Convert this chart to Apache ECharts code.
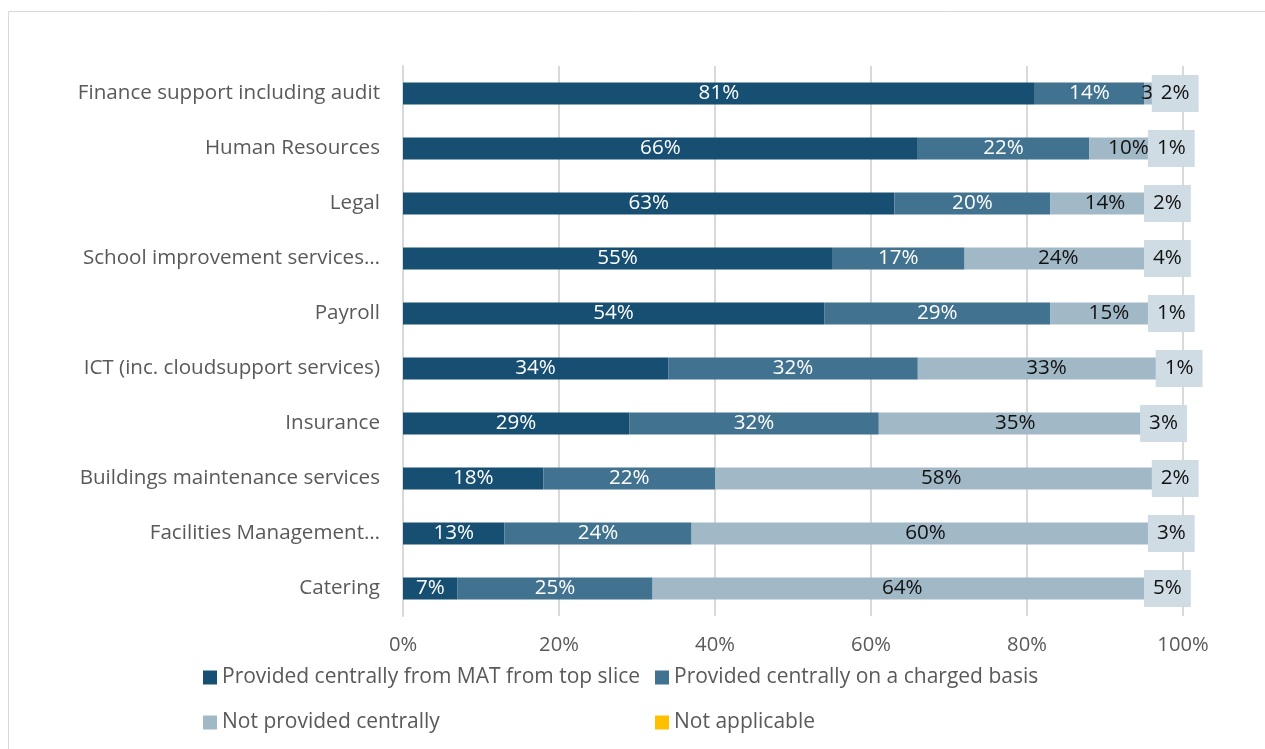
<!DOCTYPE html>
<html>
<head>
<meta charset="utf-8">
<script src="https://cdn.jsdelivr.net/npm/echarts@6/dist/echarts.min.js"></script>
<style>
  html, body { margin: 0; padding: 0; background: #fff; }
  #chart { width: 1265px; height: 749px; }
</style>
</head>
<body>
<div id="chart"></div>
<script>
// Services, listed top to bottom
const categories = [
  'Finance support including audit',
  'Human Resources',
  'Legal',
  'School improvement services…',
  'Payroll',
  'ICT (inc. cloudsupport services)',
  'Insurance',
  'Buildings maintenance services',
  'Facilities Management…',
  'Catering'
];

// Share of MATs (%) per provision type, same order as categories
const topSlice    = [81, 66, 63, 55, 54, 34, 29, 18, 13, 7];
const charged     = [14, 22, 20, 17, 29, 32, 32, 22, 24, 25];
const notCentral  = [3, 10, 14, 24, 15, 33, 35, 58, 60, 64];
const notApplic   = [2, 1, 2, 4, 1, 1, 3, 2, 3, 5];

const seriesNames = [
  'Provided centrally from MAT from top slice',
  'Provided centrally on a charged basis',
  'Not provided centrally',
  'Not applicable'
];

const xTicks = [0, 20, 40, 60, 80, 100];

const FONT = '"Open Sans", sans-serif';
const FS = 20.6;
const colors = ['#164f71', '#41728f', '#a1b8c7', '#ffc000'];

// category axis lists bottom-up, so reverse for top-to-bottom order
const rev = a => a.slice().reverse();

const chart = echarts.init(document.getElementById('chart'));

function barSeries(i, data, labelColor, extraLabel) {
  return {
    name: seriesNames[i],
    type: 'bar',
    stack: 'total',
    data: rev(data),
    barWidth: 22,
    itemStyle: { color: colors[i] },
    label: Object.assign({
      show: true,
      position: 'inside',
      formatter: p => p.value + '%',
      color: labelColor,
      fontFamily: FONT,
      fontSize: FS
    }, extraLabel || {})
  };
}

function legendAt(i, left, top) {
  return {
    data: [seriesNames[i]],
    left: left,
    top: top,
    itemWidth: 14,
    itemHeight: 14,
    itemGap: 6,
    icon: 'rect',
    textStyle: { color: '#595959', fontFamily: FONT, fontSize: 21 }
  };
}

chart.setOption({
  animation: false,
  color: colors,
  graphic: [{
    type: 'rect',
    shape: { x: 8.5, y: 11.5, width: 1300, height: 800 },
    style: { fill: 'none', stroke: '#d9d9d9', lineWidth: 1 },
    silent: true
  }],
  grid: { left: 403, right: 82, top: 66, bottom: 133, containLabel: false },
  legend: [
    legendAt(0, 198, 662),
    legendAt(1, 650, 662),
    legendAt(2, 198, 707),
    legendAt(3, 650, 707)
  ],
  xAxis: {
    type: 'value',
    min: xTicks[0],
    max: xTicks[xTicks.length - 1],
    interval: xTicks[1] - xTicks[0],
    axisLabel: {
      formatter: v => v + '%',
      color: '#595959',
      fontFamily: FONT,
      fontSize: 20.2,
      margin: 19
    },
    axisLine: { show: false },
    axisTick: { show: false },
    splitLine: { lineStyle: { color: '#d9d9d9', width: 2 } }
  },
  yAxis: {
    type: 'category',
    data: rev(categories),
    axisLabel: {
      color: '#595959',
      fontFamily: FONT,
      fontSize: FS,
      margin: 23
    },
    axisLine: { show: true, lineStyle: { color: '#d9d9d9', width: 2 } },
    axisTick: { show: false }
  },
  series: [
    barSeries(0, topSlice, '#ffffff'),
    barSeries(1, charged, '#ffffff'),
    barSeries(2, notCentral, '#111111'),
    barSeries(3, notApplic, '#111111', {
      backgroundColor: '#cfdce4',
      padding: [8, 9, 8, 9]
    })
  ]
});
</script>
</body>
</html>
